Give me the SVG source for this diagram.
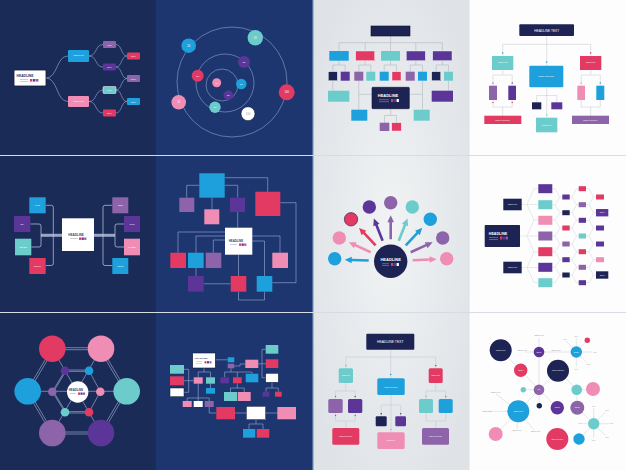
<svg xmlns="http://www.w3.org/2000/svg" width="626" height="470" viewBox="0 0 626 470">
<defs>
<radialGradient id="gl" cx="0.5" cy="0.5" r="0.6"><stop offset="0" stop-color="#f1f3f4"/><stop offset="1" stop-color="#dfe3e7"/></radialGradient>
<style>
.b{fill:#1ea0dc}.p{fill:#f08db5}.r{fill:#e23a62}.pu{fill:#5b3598}.l{fill:#8d63a9}.t{fill:#6ccccc}.n{fill:#1d2454}.w{fill:#fff}
.ld{fill:none;stroke:#8e9cc4;stroke-width:0.7}
.ll{fill:none;stroke:#cdd2d8;stroke-width:0.7}
.tx{font-family:"Liberation Sans",Arial,sans-serif;fill:#fff;text-anchor:middle}
.tgr{font-family:"Liberation Sans",Arial,sans-serif;fill:#9aa0aa;text-anchor:middle}
.tg{font-family:"Liberation Sans",Arial,sans-serif;fill:#8a8f99;text-anchor:middle;font-size:1.8px}
.hd{font-family:"Liberation Sans",Arial,sans-serif;font-weight:bold;text-anchor:middle}
</style>
</defs>
<!-- backgrounds -->
<rect x="0" y="0" width="156" height="470" fill="#1b2b58"/>
<rect x="156" y="0" width="156.5" height="470" fill="#1d3670"/>
<rect x="312.5" y="0" width="156.5" height="470" fill="url(#gl)"/>
<rect x="469" y="0" width="157" height="470" fill="#fdfdfd"/>
<line x1="312.8" y1="0" x2="312.8" y2="470" stroke="#2a4a8a" stroke-width="1"/>
<line x1="469" y1="0" x2="469" y2="470" stroke="#dde0e4" stroke-width="1"/>
<line x1="0" y1="155.5" x2="626" y2="155.5" stroke="#d6dbe4" stroke-width="1"/>
<line x1="0" y1="312.5" x2="626" y2="312.5" stroke="#d6dbe4" stroke-width="1"/>

<!-- ================= PANEL 1 ================= -->
<g id="p1-connectors">
<path class="ld" d="M46,78 C58,78 56,56 68,56 M46,78 C58,78 56,101.5 68,101.5"/>
<path class="ld" d="M89,56 C97,56 95,44.5 103,44.5 M89,56 C97,56 95,67 103,67 M89,101.5 C97,101.5 95,90 103,90 M89,101.5 C97,101.5 95,113 103,113"/>
<path class="ld" d="M116,44.5 C122,44.5 121,56 127,56 M116,67 C122,67 121,56 127,56 M116,67 C122,67 121,78.5 127,78.5 M116,90 C122,90 121,78.5 127,78.5 M116,90 C122,90 121,101.5 127,101.5 M116,113 C122,113 121,101.5 127,101.5"/>
</g>
<g id="p1-head"><rect x="14" y="70" width="32" height="16" rx="1" fill="#fff" stroke="#0f1836" stroke-width="0.8"/><text class="hd" x="25" y="77" font-size="3.3" fill="#2b3160">HEADLINE</text><rect x="20" y="79" width="8" height="0.6" fill="#aab"/><rect x="20" y="81" width="8" height="0.6" fill="#aab"/><rect x="30" y="79" width="2.4" height="2.6" class="r"/><rect x="33" y="79" width="2.4" height="2.6" class="pu"/><rect x="36" y="79" width="2.4" height="2.6" class="l"/></g>
<g id="p1-a"><rect x="68" y="50" width="21" height="12" rx="1" class="b"/><text class="tx" x="78.5" y="56" font-size="2">sample text</text></g>
<g id="p1-b"><rect x="68" y="96" width="21" height="11" rx="1" class="p"/><text class="tx" x="78.5" y="102" font-size="2">sample text</text></g>
<g id="p1-c"><rect x="103" y="41" width="13" height="7" rx="1" class="l"/><text class="tx" x="109.5" y="45.5" font-size="2.2">10%</text></g>
<g id="p1-d"><rect x="103" y="63.5" width="13" height="7" rx="1" class="pu"/><text class="tx" x="109.5" y="68" font-size="2.2">20%</text></g>
<g id="p1-e"><rect x="103" y="86.5" width="13" height="7" rx="1" class="t" stroke="#fff" stroke-width="0.5"/><text class="tx" x="109.5" y="91" font-size="2.2">10%</text></g>
<g id="p1-f"><rect x="103" y="109.5" width="13" height="7" rx="1" class="r"/><text class="tx" x="109.5" y="114" font-size="2.2">20%</text></g>
<g id="p1-g"><rect x="127" y="52.5" width="13" height="7" rx="1" class="r"/><text class="tx" x="133.5" y="57" font-size="2.2">30%</text></g>
<g id="p1-h"><rect x="127" y="75" width="13" height="7" rx="1" class="l"/><text class="tx" x="133.5" y="79.5" font-size="2.2">100%</text></g>
<g id="p1-i"><rect x="127" y="98" width="13" height="7" rx="1" class="b"/><text class="tx" x="133.5" y="102.5" font-size="2.2">30%</text></g>

<!-- ================= PANEL 2 ================= -->
<g id="p2-connectors" fill="none" stroke="#7f93c2" stroke-width="0.7">
<circle cx="222" cy="85" r="16"/>
<circle cx="225" cy="83" r="29"/>
<circle cx="232" cy="82" r="55"/>
</g>
<g id="p2-n1"><circle cx="216.7" cy="82.7" r="4.5" class="p"/><text class="tx" x="216.7" y="83.7" font-size="2.5">20</text></g>
<g id="p2-n2"><circle cx="241.3" cy="84" r="5.3" class="b"/><text class="tx" x="241.3" y="85" font-size="2.5">20</text></g>
<g id="p2-n3"><circle cx="228.3" cy="95.3" r="4.7" class="pu"/><text class="tx" x="228.3" y="96.3" font-size="2.5">20</text></g>
<g id="p2-n4"><circle cx="215" cy="107.3" r="5.7" class="t"/><text class="tx" x="215" y="108.3" font-size="2.5">20</text></g>
<g id="p2-n5"><circle cx="197.7" cy="75.7" r="6" class="r"/><text class="tx" x="197.7" y="76.7" font-size="2.5">20</text></g>
<g id="p2-n6"><circle cx="244" cy="62" r="6" class="pu"/><text class="tx" x="244" y="63" font-size="2.5">20</text></g>
<g id="p2-n7"><circle cx="188.7" cy="45.7" r="7.3" class="b"/><text class="tx" x="188.7" y="46.7" font-size="2.7">20</text></g>
<g id="p2-n8"><circle cx="255.3" cy="37.7" r="7.7" class="t"/><text class="tx" x="255.3" y="38.7" font-size="2.7">20</text></g>
<g id="p2-n9"><circle cx="286.7" cy="92.3" r="8" class="r"/><text class="tx" x="286.7" y="93.3" font-size="2.7">100</text></g>
<g id="p2-n10"><circle cx="248" cy="113.7" r="7" fill="#fff" stroke="#0d1530" stroke-width="0.6"/><text class="tgr" x="248" y="114.7" font-size="2.7">100</text></g>
<g id="p2-n11"><circle cx="178.7" cy="102.3" r="7.3" class="p"/><text class="tx" x="178.7" y="103.3" font-size="2.7">20</text></g>

<!-- ================= PANEL 3 ================= -->
<g id="p3-connectors" class="ll" style="stroke:#b9c0c8">
<path d="M390.7,36 V42.7 M339,51 V42.7 H442.4 V51 M365.2,42.7 V51 M390.5,42.7 V51 M415.8,42.7 V51"/>
<path d="M339,60.7 V65 M332.8,71.7 V65 H345.2 V71.7 M365.2,60.7 V65 M358.8,71.7 V65 H370.8 V71.7 M390.5,60.7 V65 M384.2,71.7 V65 H396.5 V71.7 M415.8,60.7 V65 M410.2,71.7 V65 H422.5 V71.7 M442.4,60.7 V65 M436.2,71.7 V65 H448.5 V71.7"/>
<path d="M332.8,80.7 V90.7 M448.5,80.7 V90.7 M358.8,80.7 V109.7 M372,94.3 H358.8 M422.5,80.7 V109.7 M409.3,94.3 H422.5 M390.7,108.7 V115.5 M384.5,122.7 V115.5 H396.5 V122.7"/>
</g>
<g id="p3-top"><rect x="371" y="26" width="39" height="10" class="n" stroke="#0c1230" stroke-width="0.6"/></g>
<g id="p3-l1"><rect x="329.3" y="51" width="19.4" height="9.7" class="b"/><rect x="355.7" y="51" width="19" height="9.7" class="r" stroke="#fff" stroke-width="0.4"/><rect x="381" y="51" width="19" height="9.7" class="t"/><rect x="406.3" y="51" width="19" height="9.7" class="pu" stroke="#fff" stroke-width="0.4"/><rect x="432.7" y="51" width="19.3" height="9.7" class="pu" stroke="#fff" stroke-width="0.4"/></g>
<g id="p3-l2"><rect x="328.3" y="71.7" width="9" height="9" class="n" stroke="#fff" stroke-width="0.4"/><rect x="340.7" y="71.7" width="9" height="9" class="pu"/><rect x="354.3" y="71.7" width="9" height="9" class="l"/><rect x="366.3" y="71.7" width="9" height="9" class="t"/><rect x="379.7" y="71.7" width="9" height="9" class="b"/><rect x="392" y="71.7" width="9" height="9" class="r" stroke="#fff" stroke-width="0.4"/><rect x="405.7" y="71.7" width="9" height="9" class="l"/><rect x="418" y="71.7" width="9" height="9" class="b"/><rect x="431.7" y="71.7" width="9" height="9" class="n" stroke="#fff" stroke-width="0.4"/><rect x="444" y="71.7" width="9" height="9" class="t"/></g>
<g id="p3-l3"><rect x="328" y="90.7" width="21.3" height="11" class="t"/><rect x="431.7" y="90.7" width="21.3" height="11" class="pu"/></g>
<g id="p3-head"><rect x="372" y="87.3" width="37.3" height="21.4" rx="0.8" class="n" stroke="#0c1230" stroke-width="0.6"/><text class="hd" x="388" y="97" font-size="4" fill="#fff">HEADLINE</text><rect x="379" y="99.5" width="10" height="0.6" fill="#8890b0"/><rect x="379" y="101.5" width="10" height="0.6" fill="#8890b0"/><rect x="391" y="99" width="2.3" height="3" class="r"/><rect x="393.8" y="99" width="2.3" height="3" class="pu"/><rect x="396.6" y="99" width="2.3" height="3" class="w"/></g>
<g id="p3-l4"><rect x="351.3" y="109.7" width="16" height="11" class="b"/><rect x="413.7" y="109.7" width="16" height="11" class="t"/><rect x="379.7" y="122.7" width="9.6" height="8.3" class="l"/><rect x="391.7" y="122.7" width="9.6" height="8.3" class="r" stroke="#fff" stroke-width="0.4"/></g>

<!-- ================= PANEL 4 ================= -->
<g id="p4-connectors" class="ll" style="stroke:#d3d7dc">
<path d="M546.7,36 V65.7 M502.7,56 V44.3 H590.7 V56"/>
<path d="M502.7,70 V75 M493,85.7 V75 H512.2 V85.7 M493,100 V107 H512.2 V100 M502.7,107 V115.7"/>
<path d="M590.7,70 V75 M581.2,85.7 V75 H600.3 V85.7 M581.2,100 V107 H600.3 V100 M590.7,107 V115.7"/>
<path d="M546.7,87.3 V117.7 M536.7,102.3 V95.5 H556.8 V102.3"/>
</g>
<g id="p4-dots"><circle cx="502.7" cy="53" r="0.8" class="b"/><circle cx="590.7" cy="53" r="0.8" class="r"/><circle cx="546.7" cy="62" r="0.8" class="b"/><circle cx="493" cy="83" r="0.7" class="l"/><circle cx="512.2" cy="83" r="0.7" class="pu"/><circle cx="581.2" cy="83" r="0.7" class="p"/><circle cx="600.3" cy="83" r="0.7" class="b"/><circle cx="493" cy="102.5" r="0.7" class="r"/><circle cx="512.2" cy="102.5" r="0.7" class="r"/><circle cx="546.7" cy="115" r="0.7" class="t"/></g>
<g id="p4-head"><rect x="519.3" y="24.3" width="54.7" height="11.7" rx="1" class="n"/><text class="tx" x="546.7" y="31.6" font-size="3.2">HEADLINE TEXT</text></g>
<g id="p4-a"><rect x="492" y="56" width="21.3" height="14" class="t"/><text class="tx" x="502.7" y="63" font-size="1.8">sample text</text></g>
<g id="p4-b"><rect x="580" y="56" width="21.3" height="14" class="r"/><text class="tx" x="590.7" y="63" font-size="1.8">sample text</text></g>
<g id="p4-c"><rect x="529.3" y="65.7" width="34" height="21.6" rx="1" class="b"/><text class="tx" x="546.3" y="77.3" font-size="2.4">place text here</text></g>
<g id="p4-d"><rect x="489" y="85.7" width="8" height="14.3" class="l"/><rect x="508.3" y="85.7" width="7.7" height="14.3" class="pu"/><rect x="577.3" y="85.7" width="7.7" height="14.3" class="p"/><rect x="596.3" y="85.7" width="8" height="14.3" class="b"/></g>
<g id="p4-e"><rect x="484.3" y="115.7" width="37" height="8.3" class="r"/><text class="tx" x="502.8" y="120.7" font-size="2.2">place text here</text></g>
<g id="p4-f"><rect x="572" y="115.7" width="37" height="8.3" class="l"/><text class="tx" x="590.5" y="120.7" font-size="2.2">place text here</text></g>
<g id="p4-g"><rect x="532" y="102.3" width="9.3" height="7" class="n"/><rect x="551.3" y="102.3" width="11" height="7" class="pu"/></g>
<g id="p4-h"><rect x="536" y="117.7" width="21.3" height="14.6" class="t"/><text class="tx" x="546.7" y="125.5" font-size="1.8">sample text</text></g>

<!-- ================= PANEL 5 ================= -->
<g id="p5-connectors">
<rect x="41" y="233.8" width="21" height="3" fill="#9aa6c6"/>
<rect x="94" y="233.8" width="21" height="3" fill="#9aa6c6"/>
<path class="ld" style="stroke:#c4cbe0" d="M45.7,205.3 H51.3 Q53.3,205.3 53.3,207.3 V263.5 Q53.3,265.5 51.3,265.5 H45.7 M30.3,224 H39 Q41,224 41,226 V245 Q41,247 39,247 H31.3"/>
<path class="ld" style="stroke:#c4cbe0" d="M112.3,205.3 H105 Q103,205.3 103,207.3 V263.5 Q103,265.5 105,265.5 H112.3 M124,224 H117 Q115,224 115,226 V245 Q115,247 117,247 H124"/>
</g>
<g id="p5-head"><rect x="62" y="218.3" width="32" height="32.7" fill="#fff"/><text class="hd" x="76" y="236" font-size="3" fill="#3a3f66">HEADLINE</text><rect x="70" y="238" width="8" height="0.6" fill="#aab"/><rect x="79" y="237.5" width="2.2" height="2.4" class="r"/><rect x="81.6" y="237.5" width="2.2" height="2.4" class="pu"/><rect x="84.2" y="237.5" width="2.2" height="2.4" class="l"/></g>
<g id="p5-five"><rect x="29.3" y="197.3" width="16.4" height="16" class="b"/><text class="tx" x="37.5" y="206" font-size="2.2">FIVE</text></g>
<g id="p5-six"><rect x="14" y="216" width="16.3" height="16" class="pu"/><text class="tx" x="22.2" y="224.7" font-size="2.2">SIX</text></g>
<g id="p5-seven"><rect x="15" y="238.7" width="16.3" height="16.6" class="t"/><text class="tx" x="23.2" y="247.7" font-size="2.2">SEVEN</text></g>
<g id="p5-eight"><rect x="29.3" y="258" width="16.4" height="16" class="r"/><text class="tx" x="37.5" y="266.7" font-size="2.2">EIGHT</text></g>
<g id="p5-one"><rect x="112.3" y="197.3" width="16" height="16" class="l"/><text class="tx" x="120.3" y="206" font-size="2.2">ONE</text></g>
<g id="p5-two"><rect x="124" y="216" width="16" height="16" class="pu"/><text class="tx" x="132" y="224.7" font-size="2.2">TWO</text></g>
<g id="p5-three"><rect x="124" y="238.7" width="16" height="16.6" class="p"/><text class="tx" x="132" y="247.7" font-size="2.2">THREE</text></g>
<g id="p5-four"><rect x="112.3" y="258" width="16" height="16" class="b"/><text class="tx" x="120.3" y="266.7" font-size="2.2">FOUR</text></g>

<!-- ================= PANEL 6 ================= -->
<g id="p6-connectors" class="ld">
<path d="M224.7,177.7 H267.7 V191.7 M199.3,185.3 H186.7 V197.7 M224.7,185.3 H237.7 V197.7 M212,197.7 V209.3 M237.7,212 V227.7"/>
<path d="M280.3,202.7 H296 V282.7 H272.3"/>
<path d="M225,232 H178 V252.7 M225,236 H196 V252.7 M225,240 H213.3 V252.7 M252.3,236 H280 V252.7 M252.3,241 H264.5 V276 M238.5,254.7 V276 M196,268 V276 M203.7,283.8 H230.7 M238.5,291.7 V300 H264.5 V291.7"/>
</g>
<g id="p6-blue"><rect x="199.3" y="173.3" width="25.4" height="24.4" class="b"/></g>
<g id="p6-red"><rect x="255.3" y="191.7" width="25" height="24.3" class="r"/></g>
<g id="p6-lav"><rect x="179.3" y="197.7" width="15" height="14.3" class="l"/></g>
<g id="p6-pink"><rect x="204.3" y="209.3" width="15" height="15" class="p"/></g>
<g id="p6-purple"><rect x="230" y="197.7" width="15" height="14.3" class="pu"/></g>
<g id="p6-head"><rect x="225" y="227.7" width="27.3" height="27" fill="#fff"/><text class="hd" x="236" y="242" font-size="2.8" fill="#3a3f66">HEADLINE</text><rect x="230" y="244" width="7" height="0.6" fill="#aab"/><rect x="239" y="243.5" width="2.2" height="2.3" class="r"/><rect x="241.6" y="243.5" width="2.2" height="2.3" class="pu"/><rect x="244.2" y="243.5" width="2.2" height="2.3" class="l"/></g>
<g id="p6-row"><rect x="170.3" y="252.7" width="15.7" height="15.3" class="r"/><rect x="188" y="252.7" width="15.7" height="15.3" class="b"/><rect x="205.7" y="252.7" width="15.6" height="15.3" class="l"/><rect x="272.3" y="252.7" width="15.7" height="15.3" class="p"/></g>
<g id="p6-low"><rect x="188" y="276" width="15.7" height="15.7" class="pu"/><rect x="230.7" y="276" width="15.6" height="15.7" class="r"/><rect x="256.7" y="276" width="15.6" height="15.7" class="b"/></g>

<!-- ================= PANEL 7 ================= -->
<g id="p7-connectors">
<g transform="translate(390.7,261.3) rotate(182)"><path class="b" d="M22,-1.3 H39 V-3.3 L46,0 L39,3.3 V1.3 H22 Z"/></g>
<g transform="translate(390.7,261.3) rotate(204.4)"><path class="p" d="M22,-1.3 H39 V-3.3 L46,0 L39,3.3 V1.3 H22 Z"/></g>
<g transform="translate(390.7,261.3) rotate(226.6)"><path class="r" d="M22,-1.3 H39 V-3.3 L46,0 L39,3.3 V1.3 H22 Z"/></g>
<g transform="translate(390.7,261.3) rotate(248.5)"><path class="pu" d="M22,-1.3 H39 V-3.3 L46,0 L39,3.3 V1.3 H22 Z"/></g>
<g transform="translate(390.7,261.3) rotate(270)"><path class="l" d="M22,-1.3 H39 V-3.3 L46,0 L39,3.3 V1.3 H22 Z"/></g>
<g transform="translate(390.7,261.3) rotate(291.5)"><path class="t" d="M22,-1.3 H39 V-3.3 L46,0 L39,3.3 V1.3 H22 Z"/></g>
<g transform="translate(390.7,261.3) rotate(313.3)"><path class="b" d="M22,-1.3 H39 V-3.3 L46,0 L39,3.3 V1.3 H22 Z"/></g>
<g transform="translate(390.7,261.3) rotate(335.6)"><path class="l" d="M22,-1.3 H39 V-3.3 L46,0 L39,3.3 V1.3 H22 Z"/></g>
<g transform="translate(390.7,261.3) rotate(357.3)"><path class="p" d="M22,-1.3 H39 V-3.3 L46,0 L39,3.3 V1.3 H22 Z"/></g>
</g>
<g id="p7-head"><circle cx="390.7" cy="261.3" r="16.7" class="n"/><text class="hd" x="390.7" y="261" font-size="4" fill="#fff">HEADLINE</text><rect x="382" y="263.5" width="7" height="0.6" fill="#8890b0"/><rect x="382" y="265.3" width="7" height="0.6" fill="#8890b0"/><rect x="391" y="263" width="2.3" height="3" class="r"/><rect x="393.8" y="263" width="2.3" height="3" class="pu"/><rect x="396.6" y="263" width="2.3" height="3" class="w"/></g>
<g id="p7-c1"><circle cx="334.7" cy="258.7" r="6.7" class="b"/></g>
<g id="p7-c2"><circle cx="339.3" cy="238" r="6.7" class="p"/></g>
<g id="p7-c3"><circle cx="351" cy="219.3" r="6.7" class="r" stroke="#1d2454" stroke-width="0.6"/></g>
<g id="p7-c4"><circle cx="369.3" cy="207" r="6.7" class="pu"/></g>
<g id="p7-c5"><circle cx="390.7" cy="202.7" r="6.7" class="l"/></g>
<g id="p7-c6"><circle cx="412.3" cy="207" r="6.7" class="t"/></g>
<g id="p7-c7"><circle cx="430.3" cy="219.3" r="6.7" class="b"/></g>
<g id="p7-c8"><circle cx="442.7" cy="238" r="6.7" class="l"/></g>
<g id="p7-c9"><circle cx="446.7" cy="258.7" r="6.7" class="p"/></g>

<!-- ================= PANEL 8 ================= -->
<g id="p8-connectors" class="ll" style="stroke:#dcdfe3">
<path d="M521.7,204.5 H527 L534,188.7 H538.3 M527,204.5 H538.3 M527,204.5 L534,220.3 H538.3"/>
<path d="M520,236 H527 L534,220.3 M527,236 H538.3 M527,236 L534,251.7 H538.3"/>
<path d="M521.7,267.5 H527 L534,251.7 M527,267.5 H538.3 M527,267.5 L534,282.7 H538.3"/>
<path d="M552.3,188.7 H555 L560,197 H562.3 M552.3,204.7 H555 L560,197 M555,204.7 L560,212.7 H562.3 M552.3,220.3 H555 L560,212.7 M555,220.3 L560,228 H562.3 M552.3,236 H555 L560,228 M555,236 L560,244 H562.3 M552.3,251.7 H555 L560,244 M555,251.7 L560,259.7 H562.3 M552.3,267.3 H555 L560,259.7 M555,267.3 L560,275 H562.3 M552.3,282.7 H555 L560,275"/>
<path d="M569.7,197 H572 L576.5,188.7 H578.7 M572,197 L576.5,204.7 H578.7 M569.7,212.7 H572 L576.5,204.7 M572,212.7 L576.5,220.3 H578.7 M569.7,228 H572 L576.5,220.3 M572,228 L576.5,236 H578.7 M569.7,244 H572 L576.5,236 M572,244 L576.5,251.7 H578.7 M569.7,259.7 H572 L576.5,251.7 M572,259.7 L576.5,267.3 H578.7 M569.7,275 H572 L576.5,267.3 M572,275 L576.5,282.7 H578.7"/>
<path d="M586,188.7 H589 L593.5,197 H596 M586,204.7 H589 L593.5,197 M589,204.7 L593.5,212.7 H596 M586,220.3 H589 L593.5,212.7 M589,220.3 L593.5,228 H596 M586,236 H589 L593.5,228 M589,236 L593.5,244 H596 M586,251.7 H589 L593.5,244 M589,251.7 L593.5,259.7 H596 M586,267.3 H589 L593.5,259.7 M589,267.3 L593.5,275 H596 M586,282.7 H589 L593.5,275"/>
</g>
<g id="p8-head"><rect x="484.7" y="225" width="35.3" height="22" rx="0.8" class="n"/><text class="hd" x="498" y="234.5" font-size="3.6" fill="#fff">HEADLINE</text><rect x="489" y="237" width="9" height="0.6" fill="#8890b0"/><rect x="489" y="239" width="9" height="0.6" fill="#8890b0"/><rect x="500" y="236.5" width="2.3" height="3" class="r"/><rect x="502.8" y="236.5" width="2.3" height="3" class="pu"/><rect x="505.6" y="236.5" width="2.3" height="3" class="l"/></g>
<g id="p8-s1"><rect x="503.3" y="198.7" width="18.4" height="11.6" class="n"/><text class="tx" x="512.5" y="205" font-size="1.8">sample text</text></g>
<g id="p8-s2"><rect x="503.3" y="261.7" width="18.4" height="11.6" class="n"/><text class="tx" x="512.5" y="268" font-size="1.8">sample text</text></g>
<g id="p8-c2">
<rect x="538.3" y="184.2" width="14" height="9" class="pu"/><rect x="538.3" y="200.2" width="14" height="9" class="t"/><rect x="538.3" y="215.8" width="14" height="9" class="p"/><rect x="538.3" y="231.5" width="14" height="9" class="l"/><rect x="538.3" y="247.2" width="14" height="9" class="r"/><rect x="538.3" y="262.8" width="14" height="9" class="pu"/><rect x="538.3" y="278.2" width="14" height="9" class="t"/>
</g>
<g id="p8-c3"><rect x="562.3" y="194.5" width="7.4" height="5" class="pu"/><rect x="562.3" y="210.2" width="7.4" height="5" class="n"/><rect x="562.3" y="225.5" width="7.4" height="5" class="r"/><rect x="562.3" y="241.5" width="7.4" height="5" class="l"/><rect x="562.3" y="257.2" width="7.4" height="5" class="pu"/><rect x="562.3" y="272.5" width="7.4" height="5" class="n"/></g>
<g id="p8-c4"><rect x="578.7" y="186.2" width="7.3" height="5" class="r"/><rect x="578.7" y="202.2" width="7.3" height="5" class="l"/><rect x="578.7" y="217.8" width="7.3" height="5" class="pu"/><rect x="578.7" y="233.5" width="7.3" height="5" class="t"/><rect x="578.7" y="249.2" width="7.3" height="5" class="r"/><rect x="578.7" y="264.8" width="7.3" height="5" class="l"/><rect x="578.7" y="280.2" width="7.3" height="5" class="pu"/></g>
<g id="p8-c5"><rect x="596" y="194.5" width="8" height="5" class="r"/><rect x="596" y="209" width="12.3" height="7.4" class="pu"/><text class="tx" x="602.2" y="213.4" font-size="2">100%</text><rect x="596" y="225.5" width="8" height="5" class="pu"/><rect x="596" y="241.5" width="8" height="5" class="pu"/><rect x="596" y="257.2" width="8" height="5" class="p"/><rect x="596" y="271.3" width="12.3" height="7.4" class="n"/><text class="tx" x="602.2" y="275.7" font-size="2">100%</text></g>

<!-- ================= PANEL 9 ================= -->
<g id="p9-connectors" fill="none" stroke="#aeb8d8" stroke-width="0.6">
<path d="M52.3,347.7 H101 M52.3,349.7 H101 M52.3,432 H101 M52.3,434 H101"/>
<path d="M51.4,349.2 L26.8,390.8 M53.2,350.2 L28.6,391.8 M51.4,433.5 L26.8,391.9 M53.2,432.5 L28.6,390.9"/>
<path d="M101.9,349.2 L126.5,390.8 M100.1,350.2 L124.7,391.8 M101.9,433.5 L126.5,391.9 M100.1,432.5 L124.7,390.9"/>
<path d="M65,370 H89 M65,371.4 H89 M65,411.6 H89 M65,413 H89 M65,370.7 L52.3,391.7 L65,412.3 M89,370.7 L100.3,391.7 L89,412.3 M66,370.9 L53.5,391.7 L66,412"/>
<path d="M27.7,391.3 H126.7 M52.3,348.7 L101,433 M101,348.7 L52.3,433"/>
</g>
<g id="p9-head"><circle cx="77.7" cy="392" r="10.7" fill="#fff"/><text class="hd" x="76" y="391" font-size="2.8" fill="#3a3f66">HEADLINE</text><rect x="70" y="393" width="6" height="0.6" fill="#aab"/><rect x="78" y="392.5" width="2.1" height="2.3" class="r"/><rect x="80.5" y="392.5" width="2.1" height="2.3" class="pu"/><rect x="83" y="392.5" width="2.1" height="2.3" class="l"/></g>
<g id="p9-big"><circle cx="52.3" cy="348.7" r="13.3" class="r"/><circle cx="101" cy="348.7" r="13.3" class="p"/><circle cx="27.7" cy="391.3" r="13.3" class="b"/><circle cx="126.7" cy="391.3" r="13.3" class="t"/><circle cx="52.3" cy="433" r="13.3" class="l"/><circle cx="101" cy="433" r="13.3" class="pu"/></g>
<g id="p9-small"><circle cx="65" cy="370.7" r="4.3" class="pu"/><circle cx="89" cy="370.7" r="4.3" class="b"/><circle cx="52.3" cy="391.7" r="4.3" class="l"/><circle cx="100.3" cy="391.7" r="4.3" class="p"/><circle cx="65" cy="412.3" r="4.3" class="t"/><circle cx="89" cy="412.3" r="4.3" class="r"/></g>

<!-- ================= PANEL 10 ================= -->
<g id="p10-connectors" class="ld">
<path d="M215.3,359.8 H227.7 M204,368 V372 M198.2,377.3 V372 H210.5 V377.3 M210.5,383.7 V388"/>
<path d="M184,369.3 H188.7 V392.3 H184 M184,380.7 H193.7"/>
<path d="M198.2,383.7 V398 M187.2,401 V398 H209.2 V401 M198.2,398 V401 M209.2,407 V413 H216.3 M235,413 H246.3 M265.7,413 H277.3 M256,419.7 V424 M249,429 V424 H263 V429"/>
<path d="M234.3,366 H240 V364 H245.3 M231,368.3 V372 M224.7,377.3 V372 H252 V373.7 M237.3,372 V377.3 M237.3,383.3 V388 M230.5,392 V388 H244.2 V392"/>
<path d="M258.3,363.8 H262 M262,349.3 V377.8 M262,349.3 H265.7 M262,363.7 H265.7 M262,377.8 H265.7 M272,382.3 V388 M266,391.7 V388 H278.3 V391.7"/>
</g>
<g id="p10-head"><rect x="192.7" y="353" width="22.6" height="15" fill="#fff" stroke="#0f1836" stroke-width="0.6"/><text class="hd" x="201" y="359" font-size="2.5" fill="#3a3f66">HEADLINE</text><rect x="196" y="361.5" width="6" height="0.5" fill="#aab"/><rect x="196" y="363" width="6" height="0.5" fill="#aab"/><rect x="204.5" y="361.2" width="2" height="2.2" class="r"/><rect x="207" y="361.2" width="2" height="2.2" class="pu"/><rect x="209.5" y="361.2" width="2" height="2.2" class="l"/></g>
<g id="p10-left"><rect x="170" y="365" width="14" height="8.7" class="t"/><rect x="170" y="376.3" width="14" height="9" class="r"/><rect x="170" y="388" width="14" height="8.7" class="w" stroke="#0f1836" stroke-width="0.5"/></g>
<g id="p10-mid"><rect x="193.7" y="377.3" width="9" height="6.4" class="p"/><rect x="206" y="377.3" width="9" height="6.4" class="t"/><rect x="206" y="388" width="9" height="5.7" class="b"/><rect x="182.7" y="401" width="9" height="6" class="p"/><rect x="193.7" y="401" width="9" height="6" class="w"/><rect x="204.7" y="401" width="9" height="6" class="l"/></g>
<g id="p10-c"><rect x="227.7" y="357.3" width="6.6" height="5" class="b"/><rect x="227.7" y="363.7" width="6.6" height="4.6" class="l"/><rect x="245.3" y="359.7" width="13" height="8.3" class="p"/><rect x="220.3" y="377.3" width="8.7" height="6" class="pu"/><rect x="233" y="377.3" width="8.7" height="6" class="r"/><rect x="245.7" y="373.7" width="12.6" height="8.6" class="b"/><rect x="224" y="392" width="13" height="9" class="t"/><rect x="237.7" y="392" width="13" height="9" class="p"/></g>
<g id="p10-right"><rect x="265.7" y="345" width="12.6" height="8.7" class="t"/><rect x="265.7" y="359.3" width="12.6" height="8.7" class="r"/><rect x="265.7" y="373.3" width="12.6" height="9" class="w" stroke="#0f1836" stroke-width="0.5"/><rect x="262.7" y="391.7" width="6.6" height="5" class="pu"/><rect x="275" y="391.7" width="6.7" height="5" class="r"/></g>
<g id="p10-bottom"><rect x="216.3" y="407" width="18.7" height="12.3" class="r"/><rect x="246.3" y="406.3" width="19.4" height="13.4" class="w" stroke="#0f1836" stroke-width="0.5"/><rect x="277.3" y="407" width="18.7" height="12.3" class="p"/><rect x="243" y="429" width="12.3" height="8.7" class="b"/><rect x="256.7" y="429" width="12.6" height="8.7" class="r"/></g>

<!-- ================= PANEL 11 ================= -->
<g id="p11-connectors" class="ll" style="stroke:#c8ced6">
<path d="M390.7,349.7 V378.3 M345.8,368.3 V357 H435.7 V368.3"/>
<path d="M345.8,383 V391 M335.5,399 V391 H355.2 V399 M335.5,413 V421 H355.2 V413 M345.8,421 V428"/>
<path d="M435.7,383 V391 M426,399 V391 H445.7 V399 M426,413 V421 H445.7 V413 M435.7,421 V428"/>
<path d="M391,395 V432.3 M381.2,416.3 V405 H400.7 V416.3"/>
</g>
<g id="p11-dots"><circle cx="345.8" cy="365.5" r="0.8" class="t"/><circle cx="435.7" cy="365.5" r="0.8" class="r"/><circle cx="390.7" cy="374.5" r="0.8" class="b"/><circle cx="335.5" cy="396.5" r="0.7" class="l"/><circle cx="355.2" cy="396.5" r="0.7" class="pu"/><circle cx="426" cy="396.5" r="0.7" class="t"/><circle cx="445.7" cy="396.5" r="0.7" class="b"/><circle cx="335.5" cy="415.5" r="0.7" class="r"/><circle cx="355.2" cy="415.5" r="0.7" class="r"/><circle cx="381.2" cy="413.8" r="0.7" class="n"/><circle cx="400.7" cy="413.8" r="0.7" class="pu"/><circle cx="391" cy="429.5" r="0.7" class="p"/></g>
<g id="p11-head"><rect x="366.3" y="333.7" width="48" height="16" rx="1" class="n"/><text class="tx" x="390.3" y="343" font-size="3.4">HEADLINE TEXT</text></g>
<g id="p11-a"><rect x="338.7" y="368.3" width="14.3" height="14.7" rx="1.5" class="t"/><text class="tx" x="345.8" y="376" font-size="1.6">sample text</text></g>
<g id="p11-b"><rect x="428.7" y="368.3" width="14" height="14.7" rx="1.5" class="r"/><text class="tx" x="435.7" y="376" font-size="1.6">sample text</text></g>
<g id="p11-c"><rect x="377.3" y="378.3" width="27.4" height="16.7" rx="1.5" class="b"/><text class="tx" x="391" y="387.5" font-size="2">place text here</text></g>
<g id="p11-d"><rect x="328.3" y="399" width="14.4" height="14" rx="1.5" class="l"/><rect x="348" y="399" width="14.3" height="14" rx="1.5" class="pu"/><rect x="419" y="399" width="14" height="14" rx="1.5" class="t"/><rect x="438.7" y="399" width="14" height="14" rx="1.5" class="b"/></g>
<g id="p11-e"><rect x="332.3" y="428" width="27" height="16.7" rx="1.5" class="r"/><text class="tx" x="345.8" y="437" font-size="2">place text here</text></g>
<g id="p11-f"><rect x="422" y="428" width="27" height="16.7" rx="1.5" class="l"/><text class="tx" x="435.5" y="437" font-size="2">place text here</text></g>
<g id="p11-g"><rect x="375.7" y="416.3" width="11" height="10" rx="1.2" class="n"/><rect x="395.3" y="416.3" width="10.7" height="10" rx="1.2" class="pu"/></g>
<g id="p11-h"><rect x="377.3" y="432.3" width="27.4" height="16.7" rx="1.5" class="p"/><text class="tx" x="391" y="441" font-size="1.6">sample text</text></g>

<!-- ================= PANEL 12 ================= -->
<g id="p12-connectors" fill="none" stroke="#d2d6dc" stroke-width="0.6">
<path d="M539,389.7 V352 M539,352 V338 M539,352 H525 M539,352 H576.3 M539,389.7 L558,370.7 M539,389.7 H523.3 M539,389.7 L518.3,411.3 M539,389.7 L557.3,407.7 M539,389.7 L539.3,405.7 M539,389.7 L520.7,370.3 L500.7,350.3"/>
<path d="M576.3,352 V338 M576.3,352 L566,341 M576.3,352 L587.3,340.3 M576.3,352 H592 M576.3,352 L587.3,363 M576.3,352 V367"/>
<path d="M558,370.7 L576.7,389.7 H593 M576.7,389.7 L577.3,407.7 L593.7,423.7 M593.7,423.7 L579,439"/>
<path d="M593.7,423.7 V408 M593.7,423.7 L605.5,412 M593.7,423.7 H609 M593.7,423.7 L605.5,435.5 M593.7,423.7 V438 M593.7,423.7 H582"/>
<path d="M518.3,411.3 L496,394 M518.3,411.3 H488 M518.3,411.3 L495.7,434 M518.3,411.3 L517,429 M518.3,411.3 L534,430"/>
</g>
<g id="p12-labels">
<text class="tg" x="539" y="336">sample text</text><text class="tg" x="522" y="350.5">sample text</text><text class="tg" x="556" y="350.5">sample text</text>
<text class="tg" x="576.3" y="336.5">text</text><text class="tg" x="565" y="340">text</text><text class="tg" x="595" y="352.6">text</text><text class="tg" x="588.5" y="365">text</text><text class="tg" x="576.3" y="369.5">text</text>
<text class="tg" x="593.7" y="406.5">text</text><text class="tg" x="607" y="411">text</text><text class="tg" x="611.5" y="424.3">text</text><text class="tg" x="607" y="437.5">text</text><text class="tg" x="593.7" y="440.5">text</text><text class="tg" x="580" y="424.3">text</text>
<text class="tg" x="495.7" y="393">sample text</text><text class="tg" x="487" y="411.6">sample text</text><text class="tg" x="517" y="431">sample text</text><text class="tg" x="535.5" y="431.5">sample text</text>
</g>
<g id="p12-n1"><circle cx="500.7" cy="350.3" r="11" class="n"/><text class="tx" x="500.7" y="351" font-size="1.8">sample text</text></g>
<g id="p12-n2"><circle cx="520.7" cy="370.3" r="6.7" class="r"/><text class="tx" x="520.7" y="371" font-size="1.6">sample</text></g>
<g id="p12-n3"><circle cx="539" cy="352" r="5.3" class="pu"/><text class="tx" x="539" y="352.7" font-size="1.6">sample</text></g>
<g id="p12-n4"><circle cx="576.3" cy="352" r="5.7" class="b"/><text class="tx" x="576.3" y="352.7" font-size="1.6">sample</text></g>
<g id="p12-n5"><circle cx="587.3" cy="340.3" r="2.7" class="r"/></g>
<g id="p12-n6"><circle cx="558" cy="370.7" r="11" class="n"/><text class="tx" x="558" y="371.4" font-size="1.8">place text here</text></g>
<g id="p12-n7"><circle cx="539" cy="389.7" r="5.3" class="l"/><text class="tx" x="539" y="390.4" font-size="1.6">text</text></g>
<g id="p12-n8"><circle cx="523.3" cy="389.7" r="2.7" class="t"/></g>
<g id="p12-n9"><circle cx="576.7" cy="389.7" r="5.3" class="t"/></g>
<g id="p12-n10"><circle cx="593" cy="389" r="7" class="p"/></g>
<g id="p12-n11"><circle cx="539.3" cy="405.7" r="2.7" class="n"/></g>
<g id="p12-n12"><circle cx="557.3" cy="407.7" r="6.7" class="pu"/><text class="tx" x="557.3" y="408.4" font-size="1.6">sample</text></g>
<g id="p12-n13"><circle cx="577.3" cy="407.7" r="7" class="l"/><text class="tx" x="577.3" y="408.4" font-size="1.6">sample</text></g>
<g id="p12-n14"><circle cx="518.3" cy="411.3" r="11" class="b"/><text class="tx" x="518.3" y="412" font-size="1.8">sample text</text></g>
<g id="p12-n15"><circle cx="593.7" cy="423.7" r="5.7" class="t"/></g>
<g id="p12-n16"><circle cx="495.7" cy="434" r="7" class="p"/></g>
<g id="p12-n17"><circle cx="557.3" cy="439" r="11" class="r"/><text class="tx" x="557.3" y="439.7" font-size="1.8">place text here</text></g>
<g id="p12-n18"><circle cx="579" cy="439" r="5.7" class="b"/></g>
</svg>
